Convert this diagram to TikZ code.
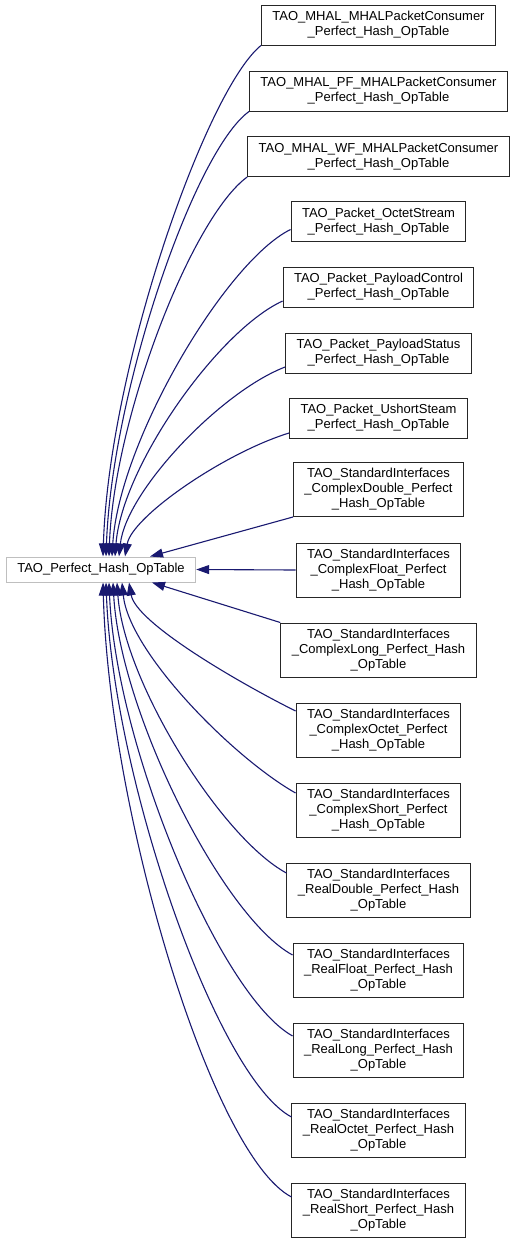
\documentclass[tikz,border=0pt]{standalone}
\usepackage{fontspec}
\setmainfont{Liberation Sans}
\usepackage{tikz}
\usetikzlibrary{arrows.meta}
\definecolor{EdgeBlue}{HTML}{191970}
\definecolor{BaseGray}{HTML}{BFBFBF}

\begin{document}
\begin{tikzpicture}[x=1pt,y=-1pt,
  cls/.style={draw=black!85,line width=1pt,align=center,inner xsep=11pt,inner ysep=2pt,minimum height=40pt,
    font=\fontsize{13}{15}\selectfont},
  cls3/.style={cls,minimum height=54pt},
  base/.style={cls,draw=BaseGray,minimum height=25pt},
  edge/.style={draw=EdgeBlue,line width=1.1pt,-{Triangle[length=13pt,width=9pt]},fill=none}]
\useasboundingbox (0,0) rectangle (517,1243);
\node[base] (base) at (101,569.5) {TAO\_Perfect\_Hash\_OpTable};
\node[cls] (c1) at (378.5,25) {TAO\_MHAL\_MHALPacketConsumer\\\_Perfect\_Hash\_OpTable};
\node[cls] (c2) at (378.5,91) {TAO\_MHAL\_PF\_MHALPacketConsumer\\\_Perfect\_Hash\_OpTable};
\node[cls] (c3) at (378.5,156.5) {TAO\_MHAL\_WF\_MHALPacketConsumer\\\_Perfect\_Hash\_OpTable};
\node[cls] (c4) at (378.5,221.5) {TAO\_Packet\_OctetStream\\\_Perfect\_Hash\_OpTable};
\node[cls] (c5) at (378.5,287) {TAO\_Packet\_PayloadControl\\\_Perfect\_Hash\_OpTable};
\node[cls] (c6) at (378.5,353) {TAO\_Packet\_PayloadStatus\\\_Perfect\_Hash\_OpTable};
\node[cls] (c7) at (378.5,418) {TAO\_Packet\_UshortSteam\\\_Perfect\_Hash\_OpTable};
\node[cls3] (c8) at (378.5,489.5) {TAO\_StandardInterfaces\\\_ComplexDouble\_Perfect\\\_Hash\_OpTable};
\node[cls3] (c9) at (378.5,570) {TAO\_StandardInterfaces\\\_ComplexFloat\_Perfect\\\_Hash\_OpTable};
\node[cls3] (c10) at (378.5,650) {TAO\_StandardInterfaces\\\_ComplexLong\_Perfect\_Hash\\\_OpTable};
\node[cls3] (c11) at (378.5,730) {TAO\_StandardInterfaces\\\_ComplexOctet\_Perfect\\\_Hash\_OpTable};
\node[cls3] (c12) at (378.5,810) {TAO\_StandardInterfaces\\\_ComplexShort\_Perfect\\\_Hash\_OpTable};
\node[cls3] (c13) at (378.5,890) {TAO\_StandardInterfaces\\\_RealDouble\_Perfect\_Hash\\\_OpTable};
\node[cls3] (c14) at (378.5,970) {TAO\_StandardInterfaces\\\_RealFloat\_Perfect\_Hash\\\_OpTable};
\node[cls3] (c15) at (378.5,1050) {TAO\_StandardInterfaces\\\_RealLong\_Perfect\_Hash\\\_OpTable};
\node[cls3] (c16) at (378.5,1130) {TAO\_StandardInterfaces\\\_RealOctet\_Perfect\_Hash\\\_OpTable};
\node[cls3] (c17) at (378.5,1210) {TAO\_StandardInterfaces\\\_RealShort\_Perfect\_Hash\\\_OpTable};
% upper children
\draw[edge] (c1.south west) .. controls +(-55,45) and +(6,-190) .. ([xshift=2pt]base.north);
\draw[edge] (c2.south west) .. controls +(-55,40) and +(6,-165) .. ([xshift=5pt]base.north);
\draw[edge] (c3.south west) .. controls +(-55,40) and +(5,-140) .. ([xshift=8pt]base.north);
\draw[edge] ([yshift=-8pt]c4.west) .. controls +(-65,32) and +(7,-115) .. ([xshift=11pt]base.north);
\draw[edge] ([yshift=-14pt]c5.west) .. controls +(-65,30) and +(7,-90) .. ([xshift=14pt]base.north);
\draw[edge] ([yshift=-14pt]c6.west) .. controls +(-65,25) and +(7,-65) .. ([xshift=18pt]base.north);
\draw[edge] ([yshift=-15pt]c7.west) .. controls +(-65,20) and +(7,-40) .. ([xshift=24pt]base.north);
\draw[edge] (c8.south west) -- ([xshift=49pt]base.north);
\draw[edge] (c9.west) -- (base.east);
% lower children
\draw[edge] (c10.north west) -- ([xshift=51pt]base.south);
\draw[edge] ([yshift=19pt]c11.west) .. controls +(-60,-30) and +(7,40) .. ([xshift=28pt]base.south);
\draw[edge] ([yshift=17pt]c12.west) .. controls +(-62,-35) and +(7,70) .. ([xshift=21pt]base.south);
\draw[edge] ([yshift=17pt]c13.west) .. controls +(-65,-35) and +(7,100) .. ([xshift=16pt]base.south);
\draw[edge] ([yshift=15pt]c14.west) .. controls +(-70,-38) and +(7,130) .. ([xshift=12pt]base.south);
\draw[edge] ([yshift=14pt]c15.west) .. controls +(-72,-40) and +(7,165) .. ([xshift=8pt]base.south);
\draw[edge] ([yshift=13pt]c16.west) .. controls +(-75,-40) and +(7,195) .. ([xshift=5pt]base.south);
\draw[edge] ([yshift=13pt]c17.west) .. controls +(-80,-42) and +(6,230) .. ([xshift=2pt]base.south);
\end{tikzpicture}
\end{document}
